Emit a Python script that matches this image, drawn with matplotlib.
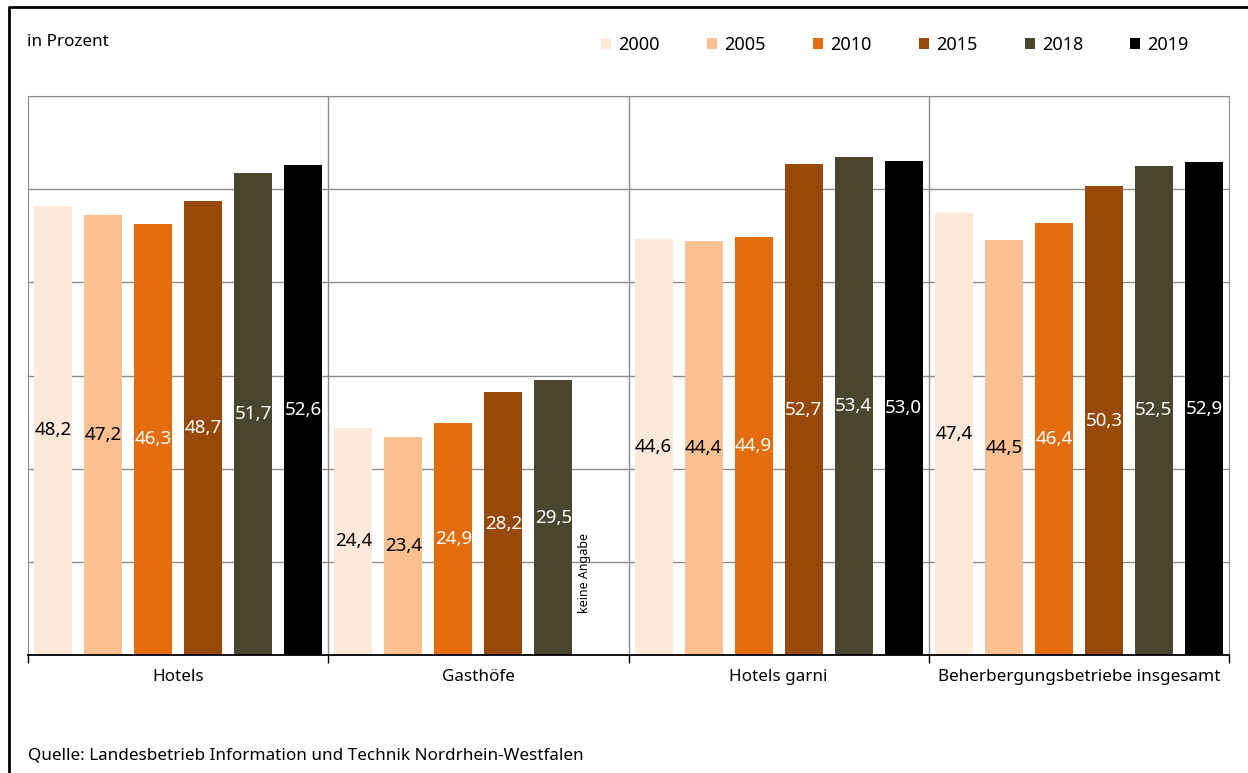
import matplotlib.pyplot as plt
import numpy as np
from matplotlib.patches import Patch
from matplotlib.lines import Line2D

plt.rcParams['font.family'] = ['Noto Sans', 'DejaVu Sans']

categories = ["Hotels", "Gasthöfe", "Hotels garni", "Beherbergungsbetriebe insgesamt"]
years = ["2000", "2005", "2010", "2015", "2018", "2019"]
colors = ["#FDE9DA", "#FAC090", "#E46C0A", "#984807", "#4A452F", "#000000"]
label_colors = ["black", "black", "white", "white", "white", "white"]

values = {
    "2000": [48.2, 24.4, 44.6, 47.4],
    "2005": [47.2, 23.4, 44.4, 44.5],
    "2010": [46.3, 24.9, 44.9, 46.4],
    "2015": [48.7, 28.2, 52.7, 50.3],
    "2018": [51.7, 29.5, 53.4, 52.5],
    "2019": [52.6, None, 53.0, 52.9],
}

fig = plt.figure(figsize=(12.48, 7.73), dpi=100)
ax = fig.add_axes([28 / 1248, 1 - 655 / 773, 1201 / 1248, 559 / 773])

n = len(years)
slot = 1.0 / n
width = 0.76 * slot

for j, year in enumerate(years):
    for i, v in enumerate(values[year]):
        x = i - 0.5 + (j + 0.5) * slot
        if v is None:
            ax.text(i - 0.5 + j * slot, 8.8, "keine Angabe", rotation=90,
                    ha="left", va="center", fontsize=9, color="black")
            continue
        ax.bar(x, v, width=width, color=colors[j], zorder=2)
        ax.text(x, v / 2, f"{v:.1f}".replace(".", ","), ha="center", va="center",
                fontsize=13.5, color=label_colors[j], zorder=3)

ax.set_xlim(-0.5, len(categories) - 0.5)
ax.set_ylim(0, 60)
ax.set_yticks(np.arange(0, 61, 10))
ax.set_yticklabels([])
ax.tick_params(axis="y", length=0)
ax.grid(axis="y", color="#8c8c8c", linewidth=1, zorder=0)
for b in np.arange(0.5, len(categories) - 0.5, 1):
    ax.axvline(b, color="#8c8c8c", linewidth=1, zorder=1)

ax.set_xticks(np.arange(-0.5, len(categories), 1))
ax.set_xticklabels([])
ax.set_xticks(np.arange(len(categories)), minor=True)
ax.set_xticklabels(categories, minor=True, fontsize=12.3)
ax.tick_params(axis="x", which="major", direction="out", length=6, width=1, color="black")
ax.tick_params(axis="x", which="minor", length=0, pad=10)

for s in ["top", "left", "right"]:
    ax.spines[s].set_color("#8c8c8c")
ax.spines["bottom"].set_color("black")
ax.spines["bottom"].set_linewidth(1.3)

handles = [Patch(facecolor=c, edgecolor="none") for c in colors]
fig.legend(handles, years, loc="center", bbox_to_anchor=(895 / 1248, 1 - 45 / 773),
           ncol=6, frameon=False, fontsize=13, handlelength=0.55, handleheight=0.55,
           handletextpad=0.4, columnspacing=2.62)

fig.text(27 / 1248, 1 - 42 / 773, "in Prozent", fontsize=12.3, va="center", ha="left")
fig.text(28 / 1248, 1 - 755 / 773, "Quelle: Landesbetrieb Information und Technik Nordrhein-Westfalen",
         fontsize=12.3, va="center", ha="left")

# outer frame (left and top edge)
fig.add_artist(Line2D([9 / 1248, 9 / 1248, 1.0], [0, 1 - 7 / 773, 1 - 7 / 773],
                      transform=fig.transFigure, color="black", linewidth=2))

fig.savefig("out.png", dpi=100)
